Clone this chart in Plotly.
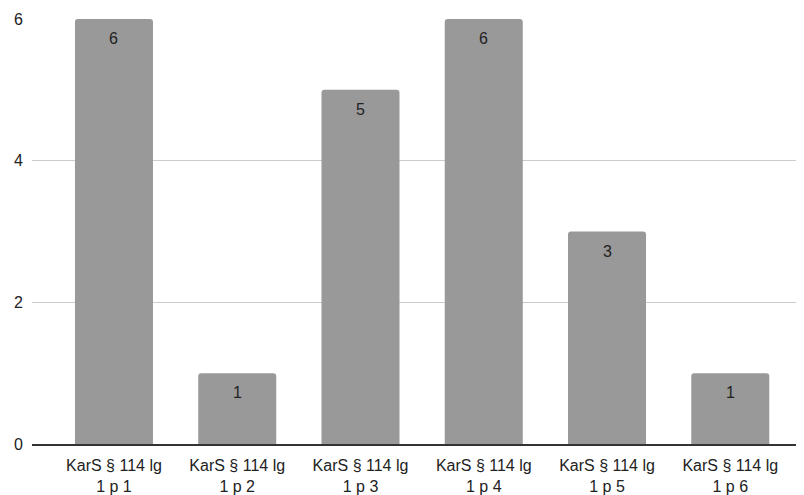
import plotly.graph_objects as go

categories = ["KarS § 114 lg<br>1 p 1", "KarS § 114 lg<br>1 p 2", "KarS § 114 lg<br>1 p 3",
              "KarS § 114 lg<br>1 p 4", "KarS § 114 lg<br>1 p 5", "KarS § 114 lg<br>1 p 6"]
values = [6, 1, 5, 6, 3, 1]
y_ticks = [0, 2, 4, 6]

xs = list(range(len(categories)))
fig = go.Figure(go.Bar(
    x=xs, y=values,
    marker=dict(color="#999999", line=dict(width=0)),
    width=0.633, hoverinfo="skip",
))
for x, v in zip(xs, values):
    fig.add_annotation(x=x, y=v, text=str(v), showarrow=False, yanchor="top", yshift=-9,
                       font=dict(size=16, color="#222222", family="Liberation Sans"))
# page body has an 8px margin, so the figure is sized/margined to compensate
fig.update_layout(
    width=796, height=487, margin=dict(l=24, r=1, t=11, b=51),
    paper_bgcolor="white", plot_bgcolor="white", showlegend=False,
    barcornerradius=3,
    font=dict(family="Liberation Sans", size=16, color="#222222"),
)
fig.update_xaxes(range=[-0.665, 5.59], tickvals=xs, ticktext=categories, automargin=False,
                 showgrid=False, showline=True, linecolor="#333333", linewidth=1.5,
                 tickfont=dict(size=16, color="#222222"), zeroline=False, ticklabelstandoff=6)
fig.update_yaxes(range=[0, 6], tickvals=y_ticks, showgrid=True, gridcolor="#cccccc", gridwidth=1,
                 automargin=False, zeroline=False, tickfont=dict(size=16, color="#222222"),
                 ticklabelstandoff=8)
fig.write_html("out.html")
